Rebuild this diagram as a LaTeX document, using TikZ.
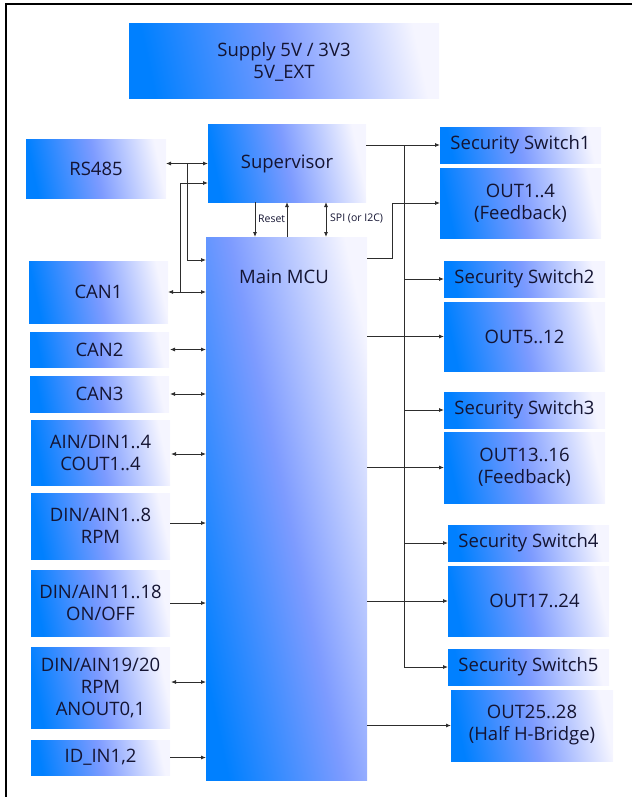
\documentclass[tikz,border=0pt]{standalone}
\usepackage{fontspec}
\setmainfont{Open Sans}
\usetikzlibrary{arrows.meta}
\definecolor{bl}{RGB}{0,128,255}
\definecolor{midc}{RGB}{125,155,255}
\definecolor{wh}{RGB}{245,245,255}
\definecolor{txt}{RGB}{20,20,50}
\definecolor{ln}{RGB}{45,45,45}
\begin{document}
\begin{tikzpicture}[x=1pt,y=-1pt,
  blk/.style={shade, top color=wh, bottom color=bl, middle color=midc, shading angle=-78,
    inner sep=0pt, outer sep=0pt, text=txt, font=\fontsize{18.5}{22}\selectfont, align=center},
  small/.style={text=txt, font=\fontsize{10.5}{12}\selectfont, inner sep=0pt},
  arr/.style={draw=ln, line width=0.8pt, -{Latex[length=5pt,width=4pt]}},
  bidir/.style={draw=ln, line width=0.8pt, {Latex[length=5pt,width=4pt]}-{Latex[length=5pt,width=4pt]}},
  frame/.style={draw=black, line width=1.2pt}]
\useasboundingbox (0,0) rectangle (632,797);
\coordinate (fTR) at (632,4);
\coordinate (fTL) at (6,4);
\coordinate (fBL) at (6,797);
\draw[frame] (fTR) -- (fTL) -- (fBL);

% boxes
\node[blk, minimum width=310, minimum height=75] (supply) at (284,61.5) {Supply 5V / 3V3\\5V\_EXT};
\node[blk, minimum width=140, minimum height=59] (rs485) at (96,168.5) {RS485};
\node[blk, minimum width=158, minimum height=77] (sup) at (287,163.5) {Supervisor};
\node[blk, minimum width=161, minimum height=543] (mcu) at (286.5,508.5) {};
\node[text=txt, font=\fontsize{18.5}{22}\selectfont, inner sep=0pt] (mcutext) at (284,277) {Main MCU};
\node[blk, minimum width=139, minimum height=62] (can1) at (98.5,292) {CAN1};
\node[blk, minimum width=139, minimum height=35] (can2) at (99.5,349.5) {CAN2};
\node[blk, minimum width=139, minimum height=36] (can3) at (99.5,394) {CAN3};
\node[blk, minimum width=139, minimum height=65] (ain) at (100.5,452.5) {AIN/DIN1..4\\COUT1..4};
\node[blk, minimum width=139, minimum height=66] (din8) at (100.5,526) {DIN/AIN1..8\\RPM};
\node[blk, minimum width=139, minimum height=66] (din18) at (100.5,603) {DIN/AIN11..18\\ON/OFF};
\node[blk, minimum width=139, minimum height=81] (din20) at (100.5,687.5) {DIN/AIN19/20\\RPM\\ANOUT0,1};
\node[blk, minimum width=139, minimum height=35] (idin) at (100.5,757.5) {ID\_IN1,2};

\node[blk, minimum width=161, minimum height=36] (ss1) at (520.5,145) {Security Switch1};
\node[blk, minimum width=161, minimum height=70] (out1) at (520.5,203) {OUT1..4\\(Feedback)};
\node[blk, minimum width=161, minimum height=36] (ss2) at (524.5,279) {Security Switch2};
\node[blk, minimum width=161, minimum height=69] (out5) at (524.5,336.5) {OUT5..12};
\node[blk, minimum width=161, minimum height=36] (ss3) at (524.5,410) {Security Switch3};
\node[blk, minimum width=161, minimum height=71] (out13) at (524.5,467.5) {OUT13..16\\(Feedback)};
\node[blk, minimum width=161, minimum height=36] (ss4) at (528.5,543) {Security Switch4};
\node[blk, minimum width=161, minimum height=70] (out17) at (528.5,601) {\hspace*{12pt}OUT17..24};
\node[blk, minimum width=161, minimum height=36] (ss5) at (528.5,667) {Security Switch5};
\node[blk, minimum width=162, minimum height=71] (out25) at (532,725.5) {OUT25..28\\(Half H-Bridge)};

% left connections
\coordinate (j1) at (187,163.5);
\coordinate (m0) at (206,260);
\coordinate (j2) at (180,292);
\coordinate (s2) at (208,183);
\draw[bidir] (rs485.east |- sup.west) -- (sup.west);
\draw[arr] (j1) |- (m0);
\draw[arr] (j2) |- (s2);
\draw[bidir] (can1.east) -- (can1.east -| mcu.west);
\draw[bidir] ([xshift=1pt]can2.east) -- (can2.east -| mcu.west);
\draw[bidir] ([xshift=1pt]can3.east) -- (can3.east -| mcu.west);
\draw[bidir] ([xshift=1pt,yshift=-1.5pt]ain.east) -- ([yshift=-1.5pt]ain.east -| mcu.west);
\draw[arr] ([yshift=3pt]din8.east) -- ([yshift=3pt]din8.east -| mcu.west);
\draw[arr] (din18.east) -- (din18.east -| mcu.west);
\draw[bidir] ([xshift=1pt,yshift=5.5pt]din20.east) -- ([yshift=5.5pt]din20.east -| mcu.west);
\draw[arr] (idin.east) -- (idin.east -| mcu.west);

% supervisor - mcu
\coordinate (r1) at (255,202);
\coordinate (r2) at (255,237);
\coordinate (u1) at (287,237);
\coordinate (u2) at (287,202);
\coordinate (p1) at (326,202);
\coordinate (p2) at (326,237);
\draw[arr] (r1) -- (r2);
\draw[arr] (u1) -- (u2);
\draw[bidir] (p1) -- (p2);
\node[small, anchor=west] (lreset) at (258,219) {Reset};
\node[small, anchor=west] (lspi) at (330,219) {SPI (or I2C)};

% right connections
\coordinate (b1) at (404,145);
\draw[arr] (sup.east |- ss1.west) -- (ss1.west);
\draw[arr] (b1) |- (ss5.west);
\draw[arr] (ss2.west -| b1) -- (ss2.west);
\draw[arr] (ss3.west -| b1) -- (ss3.west);
\draw[arr] (ss4.west -| b1) -- (ss4.west);
\coordinate (m1) at (367,258);
\coordinate (m2) at (392,258);
\draw[arr] (m1) -- (m2) |- (out1.west);
\draw[arr] (mcu.east |- out5.west) -- (out5.west);
\draw[arr] (mcu.east |- out13.west) -- (out13.west);
\draw[arr] (mcu.east |- out17.west) -- (out17.west);
\draw[arr] (mcu.east |- out25.west) -- (out25.west);
\end{tikzpicture}
\end{document}
